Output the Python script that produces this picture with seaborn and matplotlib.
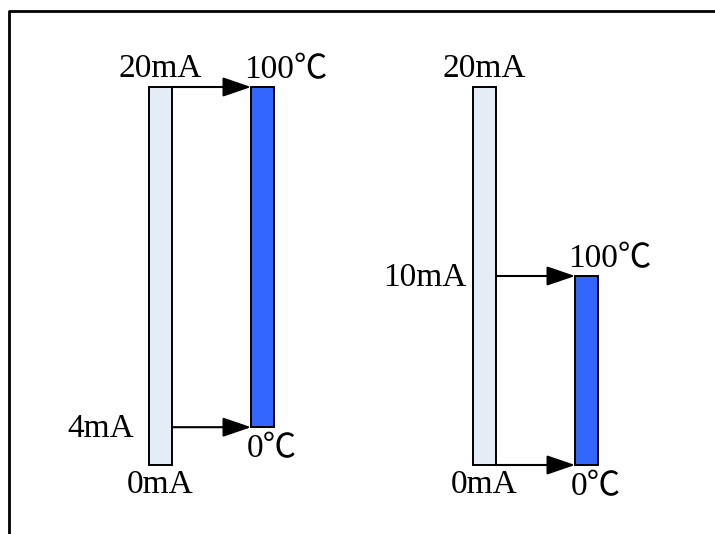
import numpy as np
import pandas as pd
import matplotlib
matplotlib.use("Agg")
import matplotlib.pyplot as plt
from matplotlib.lines import Line2D
import seaborn as sns

# Data

panels = ["4-20mA", "0-10mA"]
full_scale = [20, 20]        # mA, range of the input bars
high_level = [20, 10]        # level mapped to 100℃
low_level = [2.0, 0.0]       # level mapped to 0℃ (4mA is drawn near 2 in the picture)
top_labels = ["20mA", "20mA"]
zero_labels = ["0mA", "0mA"]
side_labels = ["4mA", "10mA"]
side_level = [2.0, 10]
temp_hi = ["100℃", "100℃"]
temp_lo = ["0℃", "0℃"]

light = "#E6ECF6"
blue = "#3366FF"
bar_w = 0.071
offset = 0.315
font = ["Liberation Serif", "Noto Sans CJK SC"]

sns.set_theme(style="white")

fig = plt.figure(figsize=(7.15, 5.34), dpi=100)
ax = fig.add_axes([0, 0, 1, 1])

# Input bars (current)
df = pd.DataFrame({"panel": panels, "mA": full_scale})
sns.barplot(data=df, x="panel", y="mA", width=bar_w, color=light,
            saturation=1, errorbar=None, edgecolor="black",
            linewidth=1.4, ax=ax)

# Output bars (temperature)
xs = np.arange(len(panels))
ax.bar(xs + offset, np.subtract(high_level, low_level), bottom=low_level,
       width=bar_w, color=blue, edgecolor="black", linewidth=1.4)

# Arrows
for i in range(len(panels)):
    for lvl in (high_level[i], low_level[i]):
        ax.annotate("", xy=(i + offset - bar_w / 2, lvl),
                    xytext=(i + bar_w / 2, lvl),
                    arrowprops=dict(arrowstyle="-|>,head_length=1.75,head_width=0.6",
                                    mutation_scale=10, lw=1.5, color="black",
                                    shrinkA=0, shrinkB=0))

# Labels
def label(txt, x, y, dx, dy):
    ax.annotate(txt, xy=(x, y), xytext=(dx * 0.72, dy * 0.72),
                textcoords="offset points", ha="center", va="baseline",
                fontsize=24, family=font, color="black")

for i in range(len(panels)):
    label(top_labels[i], i, full_scale[i], 0, 10)
    label(zero_labels[i], i, 0, 0, -28)
    label(side_labels[i], i, side_level[i], -60, -10)
    label(temp_hi[i], i + offset, high_level[i], 23, 9)
    label(temp_lo[i], i + offset, low_level[i], 9.5, -30)

ax.set_xlim(-160.5 / 324, (715 - 160.5) / 324)
ax.set_ylim(-(534 - 465) / 18.9, 20 + 87 / 18.9)
ax.axis("off")

# Frame (top and left only)
fx = 9 / 715
fy = 1 - 11 / 534
fig.add_artist(Line2D([fx, fx, 1], [0, fy, fy], color="black", lw=2))

plt.savefig("out.png", dpi=100)
